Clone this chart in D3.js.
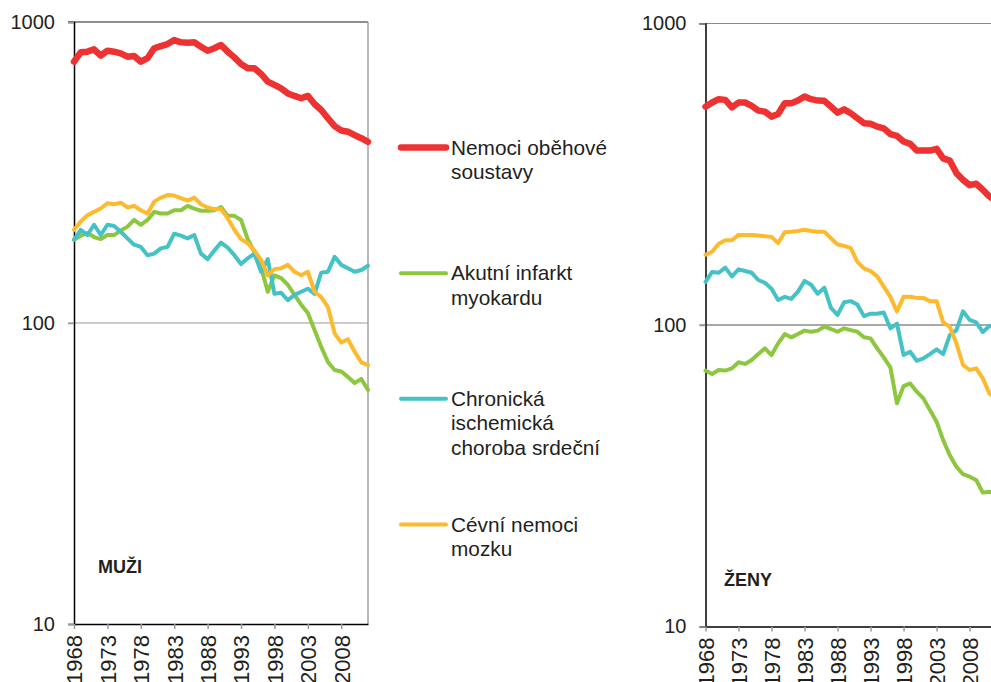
<!DOCTYPE html>
<html>
<head>
<meta charset="utf-8">
<script src="https://cdn.jsdelivr.net/npm/d3@7"></script>
<style>
  body { margin: 0; background: #fff; }
  text { font-family: "Liberation Sans", Arial, sans-serif; fill: #231f20; }
</style>
</head>
<body>
<svg id="chart"></svg>
<script>
// years 1968 - 2012
var years = d3.range(1968, 2013);
var tickYears = [1968, 1973, 1978, 1983, 1988, 1993, 1998, 2003, 2008];
var yTicks = [10, 100, 1000];

var seriesNames = ["Nemoci oběhové soustavy", "Akutní infarkt myokardu",
    "Chronická ischemická choroba srdeční", "Cévní nemoci mozku"];
var legendLines = [["Nemoci oběhové", "soustavy"], ["Akutní infarkt", "myokardu"],
    ["Chronická", "ischemická", "choroba srdeční"], ["Cévní nemoci", "mozku"]];
var seriesColors = ["#ee3231", "#8dc63f", "#45c2c5", "#fdba2f"];
var seriesWidths = [6.5, 4, 4, 4];

// muži
var muziObeh = [738, 793, 797, 811, 773, 803, 797, 787, 767, 771,
    738, 758, 818, 832, 845, 871, 856, 854, 856, 828,
    803, 818, 839, 797, 763, 725, 702, 702, 672, 634,
    618, 602, 579, 568, 558, 568, 534, 510, 479, 451,
    436, 432, 421, 411, 400];
var muziAIM = [189, 195, 199, 193, 190, 196, 196, 203, 209, 220,
    212, 220, 234, 231, 231, 237, 237, 245, 240, 236,
    236, 237, 243, 227, 227, 220, 190, 172, 153, 127,
    144, 141, 134, 124, 115, 108, 94.8, 83.3, 74.2, 69.8,
    69.0, 66.2, 63.2, 65.2, 59.9];
var muziCHIS = [189, 204, 196, 212, 196, 212, 210, 201, 191, 182,
    179, 168, 170, 177, 179, 198, 195, 191, 196, 170,
    163, 174, 185, 178, 168, 157, 164, 170, 148, 163,
    125, 126, 119, 124, 127, 130, 125, 147, 148, 166,
    156, 152, 148, 150, 155];
var muziCNM = [204, 217, 228, 234, 240, 250, 248, 251, 242, 245,
    237, 231, 253, 261, 266, 265, 260, 255, 261, 248,
    242, 239, 239, 223, 204, 190, 184, 174, 162, 144,
    151, 152, 156, 148, 144, 148, 127, 122, 113, 92.4,
    86.1, 88.3, 80.3, 74.0, 72.5];

// ženy
var zenyObeh = [530, 547, 561, 558, 527, 547, 547, 533, 514, 510,
    491, 501, 544, 544, 555, 573, 561, 555, 554, 530,
    506, 519, 504, 485, 467, 465, 455, 449, 430, 424,
    406, 399, 379, 379, 379, 384, 357, 351, 319, 303,
    291, 294, 281, 267, 258];
var zenyAIM = [70.6, 68.8, 70.9, 70.6, 71.8, 75.2, 74.3, 76.5, 80.1, 83.7,
    79.5, 86.9, 93.3, 91.0, 93.3, 95.8, 95.0, 95.8, 98.7, 97.0,
    95.0, 97.5, 96.2, 95.0, 91.0, 90.3, 83.7, 78.1, 72.4, 55.0,
    62.7, 64.0, 60.1, 57.1, 52.2, 47.8, 41.5, 37.0, 33.9, 32.0,
    31.4, 30.6, 27.8, 28.0, 27.5];
var zenyCHIS = [139, 150, 149, 155, 145, 153, 151, 149, 141, 138,
    132, 121, 124, 122, 129, 140, 136, 127, 133, 114,
    108, 119, 120, 117, 107, 109, 109, 110, 97.5, 101,
    79.5, 81.5, 76.1, 77.5, 80.1, 83.0, 80.1, 92.6, 96.2, 111,
    104, 102, 94.8, 99.2, 100];
var zenyCNM = [171, 175, 186, 191, 191, 199, 199, 199, 198, 197,
    196, 187, 203, 204, 205, 207, 205, 204, 204, 194,
    185, 183, 180, 162, 154, 151, 145, 134, 124, 111,
    124, 124, 123, 123, 120, 120, 102, 98.7, 86.9, 73.7,
    70.9, 71.8, 66.5, 59.3, 57];

var svgWidth = 991, svgHeight = 682;

var svg = d3.select("#chart")
    .attr("width", svgWidth)
    .attr("height", svgHeight);

function drawPanel(left, right, top, bottom, data, label, labelX, labelY, topColor, gridColor, rightBorder) {
    var x = d3.scaleLinear().domain([1968, 2012]).range([left, right]);
    var y = d3.scaleLog().domain([10, 1000]).range([bottom, top]);
    var g = svg.append("g");

    // gridline at 100 and top line
    g.append("line")
        .attr("x1", left - 6).attr("x2", Math.min(right, svgWidth))
        .attr("y1", y(100)).attr("y2", y(100))
        .attr("stroke", gridColor).attr("stroke-width", 1.2);
    g.append("line")
        .attr("x1", left - 6).attr("x2", Math.min(right, svgWidth))
        .attr("y1", y(1000)).attr("y2", y(1000))
        .attr("stroke", topColor).attr("stroke-width", 1.2);
    if (rightBorder) {
        g.append("line")
            .attr("x1", right).attr("x2", right)
            .attr("y1", y(1000)).attr("y2", y(10))
            .attr("stroke", "#a0a0a0").attr("stroke-width", 1.5);
    }

    // y axis
    var yAxis = d3.axisLeft(y).tickValues(yTicks).tickFormat(d3.format("d")).tickSize(6).tickPadding(13);
    var ya = g.append("g").attr("transform", "translate(" + left + ",0)").call(yAxis);
    ya.select(".domain").attr("stroke", "#000").attr("stroke-width", 1.5);
    ya.selectAll(".tick line").attr("stroke", "#999").attr("stroke-width", 1.5);
    ya.selectAll(".tick text")
        .attr("font-size", 20)
        .attr("fill", "#231f20")
        .style("font-family", "'Liberation Sans', Arial, sans-serif");

    // x axis (labels run off the bottom edge, as in the original)
    var xAxis = d3.axisBottom(x).tickValues(tickYears).tickFormat(d3.format("d")).tickSize(5).tickSizeOuter(0);
    var xa = g.append("g").attr("transform", "translate(0," + bottom + ")").call(xAxis);
    xa.select(".domain").attr("stroke", "#000").attr("stroke-width", 1.5);
    xa.selectAll(".tick line").attr("stroke", "#999").attr("stroke-width", 1.5);
    xa.selectAll(".tick text")
        .attr("font-size", 22)
        .attr("fill", "#231f20")
        .style("font-family", "'Liberation Sans', Arial, sans-serif")
        .attr("text-anchor", "end")
        .attr("transform", "rotate(-90)")
        .attr("x", -11)
        .attr("y", 0)
        .attr("dy", "0.36em");

    var line = d3.line()
        .x(function(d, i) { return x(years[i]); })
        .y(function(d) { return y(d); });

    data.forEach(function(s, k) {
        g.append("path")
            .datum(s)
            .attr("d", line)
            .attr("fill", "none")
            .attr("stroke", seriesColors[k])
            .attr("stroke-width", seriesWidths[k])
            .attr("stroke-linejoin", "round")
            .attr("stroke-linecap", "round");
    });

    g.append("text")
        .text(label)
        .attr("x", labelX)
        .attr("y", labelY)
        .attr("font-size", 18)
        .attr("font-weight", "bold");
}

drawPanel(74, 368, 22, 624, [muziObeh, muziAIM, muziCHIS, muziCNM], "MUŽI", 98, 573, "#231f20", "#9a9a9a", true);
drawPanel(705.5, 996, 23.5, 626.5, [zenyObeh, zenyAIM, zenyCHIS, zenyCNM], "ŽENY", 724, 586, "#8a8a8a", "#555", false);

// legend
var legendY = d3.scaleLinear().domain([0, 3]).range([147.5, 524.5]);
var legend = svg.append("g");
seriesNames.forEach(function(name, k) {
    var ly = legendY(k);
    legend.append("line")
        .attr("x1", 401).attr("x2", 446)
        .attr("y1", ly).attr("y2", ly)
        .attr("stroke", seriesColors[k])
        .attr("stroke-width", seriesWidths[k])
        .attr("stroke-linecap", "round");
    var t = legend.append("text")
        .attr("x", 451)
        .attr("y", ly + 7)
        .attr("font-size", 20.8);
    legendLines[k].forEach(function(s, j) {
        t.append("tspan")
            .attr("x", 451)
            .attr("dy", j == 0 ? 0 : 24.5)
            .text(s);
    });
});
</script>
</body>
</html>
